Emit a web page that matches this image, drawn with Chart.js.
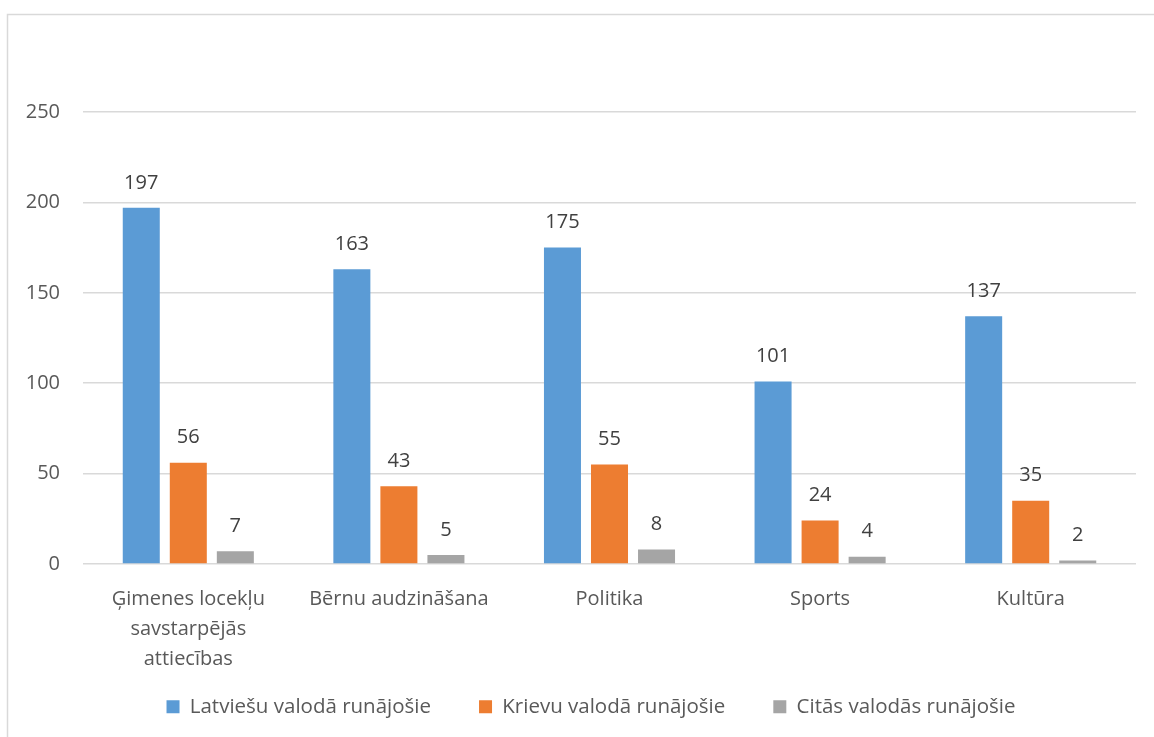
<!DOCTYPE html>
<html>
<head>
<meta charset="utf-8">
<script src="https://cdn.jsdelivr.net/npm/chart.js@4/dist/chart.umd.min.js"></script>
<style>
  html, body { margin: 0; padding: 0; background: #ffffff; }
  #wrap { position: relative; width: 1154px; height: 737px; }
</style>
</head>
<body>
<div id="wrap"><canvas id="c" width="1154" height="737"></canvas></div>
<script>
const categories = [
  ["Ģimenes locekļu", "savstarpējās", "attiecības"],
  "Bērnu audzināšana",
  "Politika",
  "Sports",
  "Kultūra"
];
const seriesNames = ["Latviešu valodā runājošie", "Krievu valodā runājošie", "Citās valodās runājošie"];
const latvianValues = [197, 163, 175, 101, 137];
const russianValues = [56, 43, 55, 24, 35];
const otherValues = [7, 5, 8, 4, 2];
const yTicks = [0, 50, 100, 150, 200, 250];

const colors = ["#5B9BD5", "#ED7D31", "#A5A5A5"];
const FONT = "'Open Sans', Lato, sans-serif";

const borderPlugin = {
  id: 'outerBorder',
  beforeDraw(chart) {
    const ctx = chart.ctx;
    ctx.save();
    ctx.fillStyle = '#ffffff';
    ctx.fillRect(0, 0, chart.width, chart.height);
    ctx.strokeStyle = '#d9d9d9';
    ctx.lineWidth = 1.5;
    ctx.strokeRect(7.5, 14.5, 1300, 900);
    ctx.restore();
  }
};

const legendShift = {
  id: 'legendShift',
  afterLayout(chart) {
    if (chart.legend) {
      chart.legend.left += 23;
      chart.legend.right += 23;
    }
  }
};

const valueLabels = {
  id: 'valueLabels',
  afterDatasetsDraw(chart) {
    const ctx = chart.ctx;
    ctx.save();
    ctx.font = "20px " + FONT;
    ctx.fillStyle = '#404040';
    ctx.textAlign = 'center';
    ctx.textBaseline = 'middle';
    chart.data.datasets.forEach((ds, i) => {
      const meta = chart.getDatasetMeta(i);
      meta.data.forEach((bar, j) => {
        ctx.fillText(String(ds.data[j]), bar.x, bar.y - 25);
      });
    });
    ctx.restore();
  }
};

new Chart(document.getElementById('c'), {
  type: 'bar',
  data: {
    labels: categories,
    datasets: [
      { label: seriesNames[0], data: latvianValues, backgroundColor: colors[0] },
      { label: seriesNames[1], data: russianValues, backgroundColor: colors[1] },
      { label: seriesNames[2], data: otherValues, backgroundColor: colors[2] }
    ]
  },
  options: {
    responsive: false,
    animation: false,
    devicePixelRatio: 1,
    layout: { padding: { top: 112, right: 18, bottom: 10, left: 0 } },
    datasets: { bar: { categoryPercentage: 0.67, barPercentage: 0.787 } },
    plugins: {
      legend: {
        position: 'bottom',
        labels: {
          boxWidth: 13,
          boxHeight: 13,
          padding: 48,
          color: '#595959',
          font: { family: FONT, size: 20.5 }
        }
      },
      tooltip: { enabled: false }
    },
    scales: {
      x: {
        grid: { display: false },
        border: { display: false },
        ticks: {
          color: '#595959',
          font: { family: FONT, size: 20, lineHeight: 1.5 },
          padding: 12,
          maxRotation: 0,
          autoSkip: false
        },
        afterFit(scale) {
          scale.height = 84.5;
          scale._computeLabelArea = function () { return undefined; };
        }
      },
      y: {
        min: 0,
        max: 250,
        afterBuildTicks(scale) { scale.ticks = yTicks.map(v => ({ value: v })); },
        grid: { color: '#d9d9d9', lineWidth: 1.5, drawTicks: false },
        border: { display: false },
        ticks: {
          color: '#595959',
          font: { family: FONT, size: 20 },
          padding: 23
        },
        afterFit(scale) { scale.width = 83; }
      }
    }
  },
  plugins: [borderPlugin, legendShift, valueLabels]
});
</script>
</body>
</html>
